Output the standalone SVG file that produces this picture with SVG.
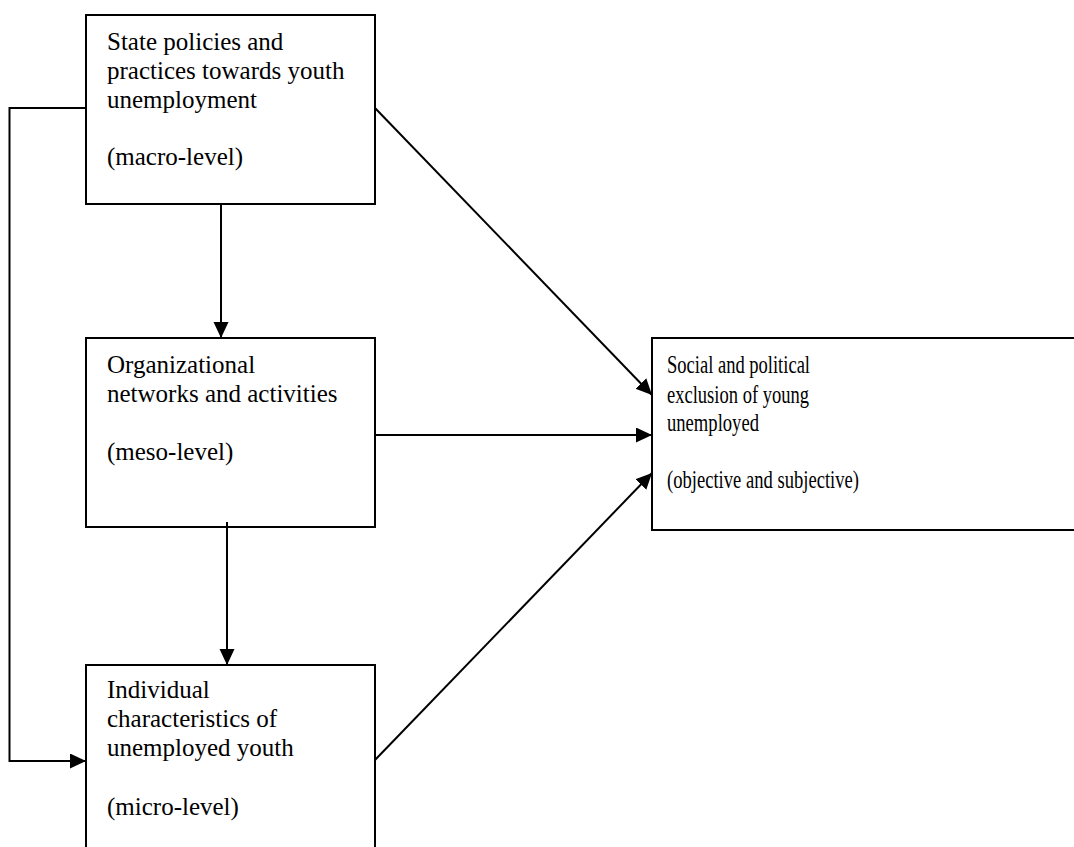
<svg xmlns="http://www.w3.org/2000/svg" width="1074" height="847" viewBox="0 0 1074 847">
<style>
.box{fill:#fff;stroke:#000;stroke-width:2}
.t{font-family:"Liberation Serif","Times New Roman",serif;font-size:25px;fill:#000}
.c{fill:none;stroke:#000;stroke-width:2}
</style>
<defs>
<marker id="ah" markerUnits="userSpaceOnUse" markerWidth="16" markerHeight="16" refX="16" refY="7.5" orient="auto">
<path d="M0,0 L16,7.5 L0,15 Z" fill="#000"/>
</marker>
</defs>
<rect width="1074" height="847" fill="#fff"/>
<g id="macro">
<rect class="box" x="86" y="15" width="289" height="189"/>
<text class="t" x="107" y="50">State policies and</text>
<text class="t" x="107" y="79">practices towards youth</text>
<text class="t" x="107" y="108">unemployment</text>
<text class="t" x="107" y="165">(macro-level)</text>
</g>
<g id="meso">
<rect class="box" x="86" y="338" width="289" height="189"/>
<text class="t" x="107" y="373">Organizational</text>
<text class="t" x="107" y="402">networks and activities</text>
<text class="t" x="107" y="460">(meso-level)</text>
</g>
<g id="micro">
<rect class="box" x="86" y="665" width="289" height="200"/>
<text class="t" x="107" y="698">Individual</text>
<text class="t" x="107" y="727">characteristics of</text>
<text class="t" x="107" y="756">unemployed youth</text>
<text class="t" x="107" y="815">(micro-level)</text>
</g>
<g id="exclusion">
<rect class="box" x="652" y="338" width="430" height="192"/>
<text class="t" x="667" y="373" textLength="143" lengthAdjust="spacingAndGlyphs">Social and political</text>
<text class="t" x="667" y="403" textLength="142" lengthAdjust="spacingAndGlyphs">exclusion of young</text>
<text class="t" x="667" y="431" textLength="92" lengthAdjust="spacingAndGlyphs">unemployed</text>
<text class="t" x="667" y="488" textLength="192" lengthAdjust="spacingAndGlyphs">(objective and subjective)</text>
</g>
<g id="connectors">
<polyline class="c" points="86,108 9.5,108 9.5,761 86,761" marker-end="url(#ah)"/>
<line class="c" x1="221" y1="204" x2="221" y2="338" marker-end="url(#ah)"/>
<line class="c" x1="227" y1="522" x2="227" y2="665" marker-end="url(#ah)"/>
<line class="c" x1="375" y1="108" x2="652" y2="395" marker-end="url(#ah)"/>
<line class="c" x1="375" y1="435" x2="652" y2="435" marker-end="url(#ah)"/>
<line class="c" x1="375" y1="760" x2="652" y2="473" marker-end="url(#ah)"/>
</g>
</svg>
